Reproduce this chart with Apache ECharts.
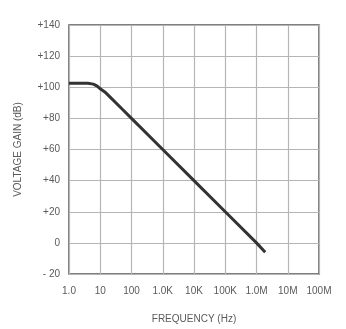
<!DOCTYPE html>
<html><head><meta charset="utf-8">
<script src="https://cdn.jsdelivr.net/npm/echarts@6/dist/echarts.min.js"></script>
<style>html,body{margin:0;padding:0;background:#fff}#c{width:346px;height:329px}</style>
</head><body><div id="c"></div>
<script>
var freqHz = [1, 4, 6, 8, 10, 14, 20, 50, 100, 1000, 10000, 100000, 1000000, 1900000];
var gainDb = [102.5, 102.5, 102, 100.7, 99, 97, 94, 86, 80, 60, 40, 20, 0, -6];
var xTickLabels = {1:'1.0',10:'10',100:'100',1000:'1.0K',10000:'10K',100000:'100K',1000000:'1.0M',10000000:'10M',100000000:'100M'};
var yTickLabels = {'-20':'- 20','0':'0','20':'+20','40':'+40','60':'+60','80':'+80','100':'+100','120':'+120','140':'+140'};

var pts = freqHz.map(function(f,i){return [f, gainDb[i]];});
var chart = echarts.init(document.getElementById('c'), null, {renderer:'canvas'});
var txt = {color:'#5a5a5a', fontFamily:'Liberation Sans, Arial, sans-serif', fontSize:10};
chart.setOption({
  animation:false,
  grid:{left:69,right:27,top:25,bottom:51,show:true,borderColor:'#555',borderWidth:1.5,backgroundColor:'transparent'},
  xAxis:{type:'log',logBase:10,min:1,max:100000000,
    name:'FREQUENCY (Hz)',nameLocation:'middle',nameGap:40,nameTextStyle:txt,
    axisLine:{show:false},axisTick:{show:false},
    axisLabel:Object.assign({margin:12,formatter:function(v){return xTickLabels[Math.round(v)]||'';}},txt),
    splitLine:{show:true,lineStyle:{color:'#b5b5b5',width:1.2}}},
  yAxis:{type:'value',min:-20,max:140,interval:20,
    name:'VOLTAGE GAIN (dB)',nameLocation:'middle',nameGap:46,nameTextStyle:txt,
    axisLine:{show:false},axisTick:{show:false},
    axisLabel:Object.assign({margin:9,formatter:function(v){return yTickLabels[String(v)]||'';}},txt),
    splitLine:{show:true,lineStyle:{color:'#b5b5b5',width:1.2}}},
  series:[{type:'line',data:pts,symbol:'none',smooth:false,lineStyle:{color:'#333',width:3},z:5}]
});
</script></body></html>
